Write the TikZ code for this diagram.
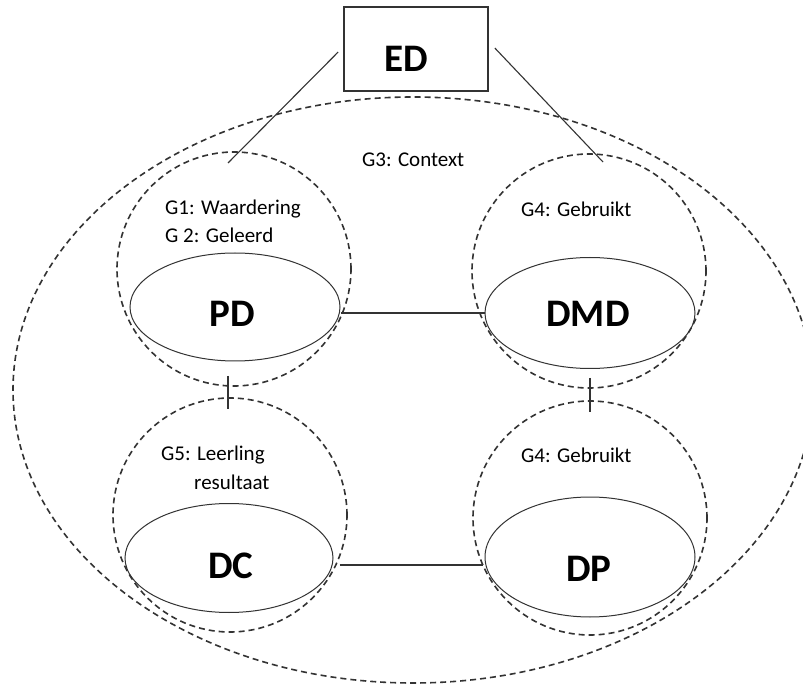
\documentclass[tikz,border=0pt]{standalone}
\usepackage{fontspec}
\setmainfont{Carlito}
\usetikzlibrary{shapes.geometric}
\definecolor{ln}{HTML}{333333}
\begin{document}
\begin{tikzpicture}[x=1pt,y=-1pt,
  dsh/.style={draw=ln, line width=1.6pt, dash pattern=on 6pt off 4pt},
  ring/.style={dsh, circle, minimum size=234pt, inner sep=0pt},
  oval/.style={draw=ln, line width=1pt, ellipse, inner sep=0pt},
  big/.style={font=\bfseries\fontsize{39}{39}\selectfont, anchor=base, inner sep=0pt},
  lab/.style={font=\fontsize{21}{22}\selectfont, anchor=base west, inner sep=0pt},
  con/.style={draw=ln, line width=1.1pt}]
\clip (0,0) rectangle (803,684);
\fill[white] (0,0) rectangle (803,684);
% context ellipse
\draw[dsh] (413,390) ellipse [x radius=400pt, y radius=293pt];
% dashed circles
\node[ring] (c1) at (234,269) {};
\node[ring] (c2) at (589,271) {};
\node[ring] (c3) at (230,515) {};
\node[ring] (c4) at (590,518) {};
% ovals
\node[oval, minimum width=210pt, minimum height=108pt] (PD) at (235,307) {};
\node[oval, minimum width=210pt, minimum height=111pt] (DMD) at (590,313) {};
\node[oval, minimum width=208pt, minimum height=109pt] (DC) at (229,558) {};
\node[oval, minimum width=210pt, minimum height=120pt] (DP) at (590,557) {};
\node[big] (tPD) at (232.5,327) {PD};
\node[big] (tDMD) at (588,327) {DMD};
\node[big] (tDC) at (231,578) {DC};
\node[big] (tDP) at (589,581) {DP};
% ED box
\node[draw=ln, line width=1.6pt, minimum width=144pt, minimum height=84pt, inner sep=0pt] (ED) at (416,49) {};
\node[big] (tED) at (406.5,72) {ED};
% connectors
\coordinate (edL) at ([xshift=-5pt,yshift=-3pt]ED.west);
\coordinate (edR) at ([xshift=6pt,yshift=1pt]ED.east);
\coordinate (t1) at (228,163);
\coordinate (t2) at (603,162);
\draw[con] (edL) -- (t1);
\draw[con] (edR) -- (t2);
\draw[con] ([yshift=-6pt]PD.east) -- (DMD.west);
\draw[con] ([xshift=6pt,yshift=-7pt]DC.east) -- ([xshift=-2pt,yshift=-8pt]DP.west);
\coordinate (k1a) at (228,376); \coordinate (k1b) at (228,409);
\coordinate (k2a) at (590,378); \coordinate (k2b) at (590,412);
\draw[con] (k1a) -- (k1b);
\draw[con] (k2a) -- (k2b);
% labels
\node[lab] at (362,167) {G3: Context};
\node[lab] at (165,215) {G1: Waardering};
\node[lab] at (165,243) {G 2: Geleerd};
\node[lab] at (521,217) {G4: Gebruikt};
\node[lab] at (521,462) {G4: Gebruikt};
\node[lab] at (161,460) {G5: Leerling};
\node[lab] at (194,489) {resultaat};
\end{tikzpicture}
\end{document}
